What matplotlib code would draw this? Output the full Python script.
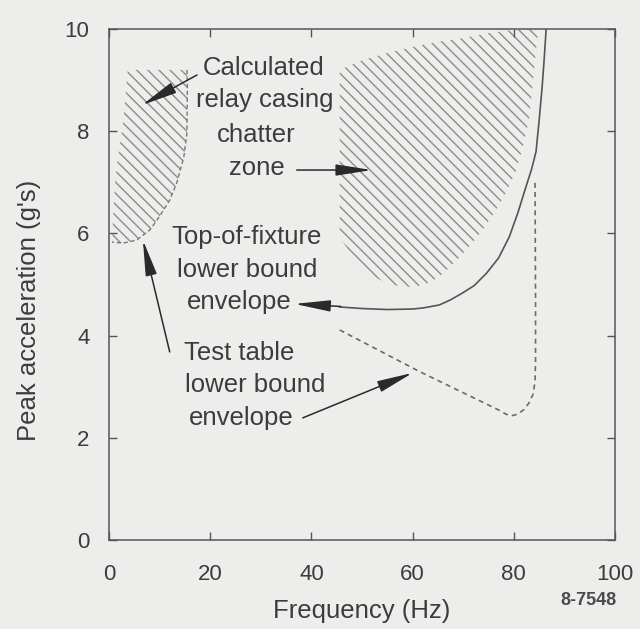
import matplotlib.pyplot as plt
import numpy as np

plt.rcParams['font.family'] = ['Liberation Sans', 'DejaVu Sans']
plt.rcParams['hatch.linewidth'] = 1.0

BG = '#ededeb'
INK = '#3c3c3c'

# chatter zone near the low end of the band
left_zone_f = [3.7, 15.4, 15.5, 15.4, 14.8, 13.4, 12.0, 9.9, 8.1, 5.5, 2.8, 0.6,
               0.8, 1.2, 1.8, 2.8, 3.7]
left_zone_g = [9.2, 9.2, 8.94, 7.96, 7.50, 6.99, 6.65, 6.32, 6.07, 5.87, 5.81, 5.83,
               6.3, 7.0, 7.5, 8.16, 9.2]

# chatter zone in the 45-85 Hz range
right_zone_f = [45.6, 50.1, 55.0, 60.0, 65.0, 69.8, 75.0, 79.7, 85.0, 84.6, 83.8,
                83.0, 81.8, 80.5, 78.6, 76.5, 74.2, 71.8, 68.5, 65.3, 62.5, 60.0,
                57.3, 54.8, 52.2, 50.1, 47.8, 45.6]
right_zone_g = [9.2, 9.39, 9.53, 9.65, 9.75, 9.82, 9.92, 9.98, 10.0, 9.78, 9.0,
                8.22, 7.70, 7.24, 6.82, 6.46, 6.12, 5.81, 5.45, 5.15, 5.00, 4.95,
                4.97, 5.03, 5.16, 5.34, 5.60, 5.93]

# top-of-fixture lower bound envelope
fixture_f = [45.6, 50.0, 55.0, 60.0, 62.0, 65.3, 67.5, 69.8, 72.2, 74.6, 77.0,
             79.1, 80.8, 82.4, 83.5, 84.4, 85.0, 85.6, 86.0, 86.4]
fixture_g = [4.56, 4.53, 4.51, 4.52, 4.54, 4.60, 4.70, 4.83, 4.98, 5.22, 5.52,
             5.93, 6.40, 6.91, 7.25, 7.60, 8.20, 8.86, 9.40, 10.0]

# test table lower bound envelope
table_f = [45.6, 61.3, 77.1, 78.5, 79.5, 80.7, 82.0, 83.0, 83.8, 84.2, 84.3,
           84.3, 84.2]
table_g = [4.11, 3.30, 2.54, 2.46, 2.43, 2.46, 2.55, 2.68, 2.85, 3.10, 3.50,
           4.70, 7.05]

xticks = [0, 20, 40, 60, 80, 100]
yticks = [0, 2, 4, 6, 8, 10]

# callout text lines: (text, x, y)
calc_lines = [('Calculated', 30.6, 9.24), ('relay casing', 30.8, 8.61),
              ('chatter', 29.0, 7.93), ('zone', 29.2, 7.28)]
fixture_lines = [('Top-of-fixture', 27.2, 5.93), ('lower bound', 27.4, 5.28),
                 ('envelope', 25.8, 4.66)]
table_lines = [('Test table', 25.8, 3.66), ('lower bound', 28.8, 3.03),
               ('envelope', 26.2, 2.39)]

# arrows: (tail, tip)
arrows = [((17.4, 9.10), (6.5, 8.51)),
          ((37.1, 7.24), (51.9, 7.24)),
          ((45.8, 4.57), (36.7, 4.62)),
          ((12.0, 3.68), (6.7, 5.87)),
          ((38.3, 2.39), (60.0, 3.27))]

fig = plt.figure(figsize=(6.4, 6.29), dpi=100, facecolor=BG)
ax = fig.add_axes([0.1703, 0.1415, 0.7906, 0.8124], facecolor=BG)

ax.fill(left_zone_f, left_zone_g, facecolor='none', edgecolor='#8c8c8c',
        linewidth=0, hatch='\\\\\\')
ax.fill(right_zone_f, right_zone_g, facecolor='none', edgecolor='#8c8c8c',
        linewidth=0, hatch='\\\\\\')

# dashed outline on the lower/right side of the left zone
ax.plot(left_zone_f[1:12], left_zone_g[1:12], color='#777777', lw=1.0,
        dashes=(3, 2))

ax.plot(fixture_f, fixture_g, color='#555555', lw=1.2)
ax.plot(table_f, table_g, color='#6a6a6a', lw=1.2, dashes=(3, 2.5))

for lines in (calc_lines, fixture_lines, table_lines):
    for txt, x, y in lines:
        ax.text(x, y, txt, ha='center', va='center', fontsize=18.5, color=INK)

for tail, tip in arrows:
    ax.annotate('', xy=tip, xytext=tail,
                arrowprops=dict(arrowstyle='-|>,head_length=2.2,head_width=0.35',
                                color='#2a2a2a', lw=1.1, shrinkA=0, shrinkB=0,
                                mutation_scale=10))

ax.set_xlim(0, 100)
ax.set_ylim(0, 10)
ax.set_xticks(xticks)
ax.set_yticks(yticks)
ax.tick_params(direction='in', length=6, width=1, color='#555555',
               top=True, right=True, labelsize=16, labelcolor=INK)
ax.tick_params(axis='x', pad=17)
ax.tick_params(axis='y', pad=14)
for s in ax.spines.values():
    s.set_color('#555555')
    s.set_linewidth(1.1)

ax.set_xlabel('Frequency (Hz)', fontsize=18.5, color=INK)
ax.set_ylabel("Peak acceleration (g's)", fontsize=18.5, color=INK)
ax.xaxis.set_label_coords(0.5, -0.115)
ax.yaxis.set_label_coords(-0.135, 0.45)

fig.text(0.919, 0.046, '8-7548', ha='center', va='center', fontsize=13,
         fontweight='bold', color='#4a4a4a')

fig.savefig('out.png', dpi=100, facecolor=BG)
